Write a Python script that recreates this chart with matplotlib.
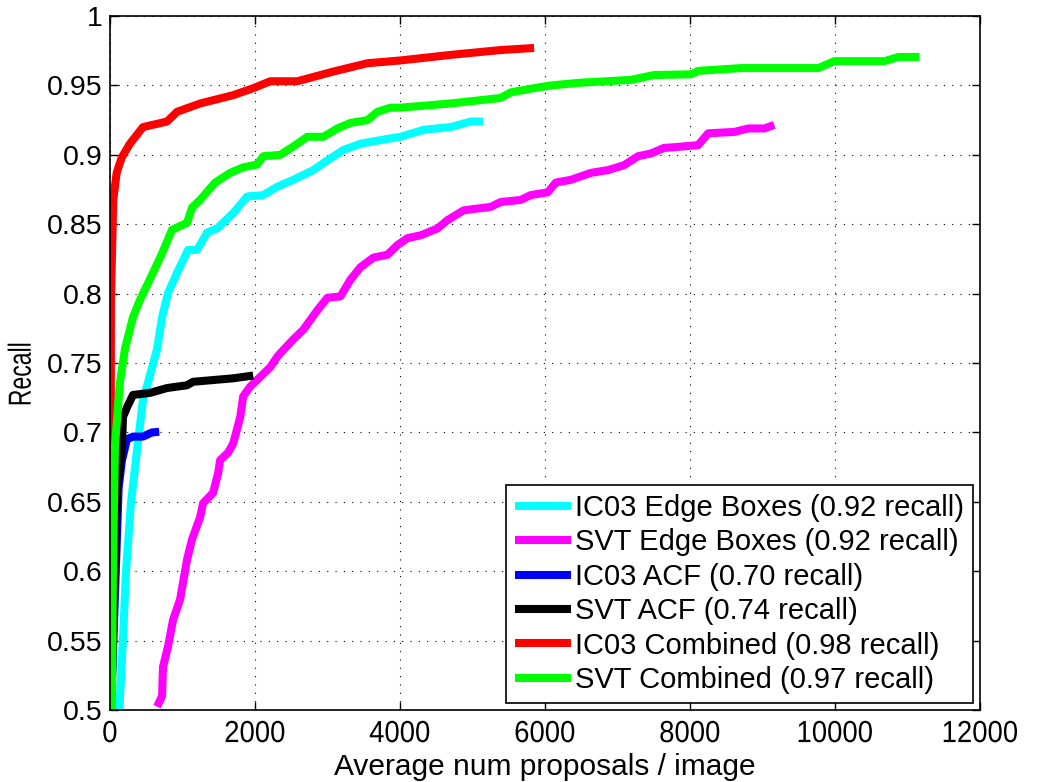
import matplotlib
matplotlib.use("Agg")
import matplotlib.pyplot as plt
from matplotlib import patheffects
from matplotlib.transforms import Affine2D

# IC03 Edge Boxes
ic03_eb_x = [130, 180, 221, 290, 380, 456, 525, 650, 719, 802, 926, 1078, 1202, 1341, 1479, 1700,
             1893, 2115, 2308, 2529, 2805, 2999, 3220, 3455, 3773, 4008, 4326, 4699, 4975, 5150]
ic03_eb_y = [0.5, 0.551, 0.599, 0.649, 0.69, 0.7235, 0.736, 0.760, 0.783, 0.8005, 0.815, 0.8315,
             0.8315, 0.844, 0.847, 0.858, 0.870, 0.871, 0.877, 0.882, 0.889, 0.896, 0.9035, 0.908,
             0.911, 0.913, 0.918, 0.920, 0.924, 0.924]

# SVT Edge Boxes
svt_eb_x = [650, 719, 732, 802, 871, 967, 1064, 1133, 1244, 1285, 1423, 1493, 1520, 1631, 1700,
            1797, 1838, 1935, 2073, 2211, 2308, 2349, 2529, 2667, 2861, 2999, 3179, 3317, 3455,
            3635, 3828, 3966, 4105, 4284, 4519, 4657, 4878, 5252, 5390, 5666, 5804, 6039, 6150,
            6357, 6634, 6869, 7090, 7283, 7463, 7642, 7781, 8113, 8251, 8610, 8803, 9024, 9163]
svt_eb_y = [0.5025, 0.510, 0.531, 0.546, 0.565, 0.5795, 0.6085, 0.623, 0.639, 0.649, 0.6565, 0.671,
            0.680, 0.6855, 0.692, 0.711, 0.726, 0.733, 0.740, 0.747, 0.7545, 0.757, 0.767, 0.774,
            0.788, 0.797, 0.798, 0.810, 0.819, 0.826, 0.828, 0.835, 0.840, 0.842, 0.847, 0.853,
            0.860, 0.8625, 0.866, 0.8675, 0.871, 0.873, 0.880, 0.882, 0.887, 0.889, 0.8925, 0.899,
            0.901, 0.905, 0.9055, 0.907, 0.9155, 0.9165, 0.919, 0.919, 0.9215]

# IC03 ACF
ic03_acf_x = [15, 120, 166, 235, 318, 456, 580, 680]
ic03_acf_y = [0.5, 0.66, 0.68, 0.695, 0.697, 0.697, 0.700, 0.7005]

# SVT ACF
svt_acf_x = [15, 100, 166, 180, 235, 318, 553, 788, 1064, 1147, 1700, 1976]
svt_acf_y = [0.5, 0.66, 0.6875, 0.711, 0.718, 0.727, 0.7285, 0.732, 0.734, 0.7365, 0.739, 0.741]

# IC03 Combined
ic03_comb_x = [5, 10, 14, 46, 93, 162, 276, 456, 788, 926, 1244, 1700, 1976, 2211, 2584, 3082,
               3552, 4008, 4699, 5390, 5850]
ic03_comb_y = [0.5, 0.65, 0.795, 0.8675, 0.887, 0.898, 0.908, 0.920, 0.924, 0.931, 0.937, 0.943,
               0.948, 0.953, 0.953, 0.960, 0.966, 0.968, 0.972, 0.9755, 0.977]

# SVT Combined
svt_comb_x = [28, 41, 69, 138, 207, 318, 415, 594, 719, 857, 1064, 1133, 1244, 1451, 1658, 1838,
              2032, 2115, 2349, 2529, 2723, 2944, 3137, 3317, 3552, 3690, 3870, 4008, 4699, 5390,
              5528, 5846, 6081, 6496, 7187, 7505, 8016, 8113, 8707, 9771, 9992, 10683, 10877, 11167]
svt_comb_y = [0.5, 0.6, 0.69, 0.736, 0.760, 0.783, 0.7955, 0.815, 0.829, 0.846, 0.851, 0.862,
              0.8675, 0.880, 0.887, 0.891, 0.893, 0.899, 0.900, 0.906, 0.913, 0.913, 0.919, 0.923,
              0.925, 0.931, 0.934, 0.934, 0.937, 0.941, 0.945, 0.948, 0.950, 0.952, 0.954, 0.9575,
              0.958, 0.9605, 0.9625, 0.9625, 0.9675, 0.9675, 0.9705, 0.9705]

series = [
    (ic03_eb_x, ic03_eb_y, "#00FFFF", "IC03 Edge Boxes (0.92 recall)"),
    (svt_eb_x, svt_eb_y, "#FF00FF", "SVT Edge Boxes (0.92 recall)"),
    (ic03_acf_x, ic03_acf_y, "#0000FF", "IC03 ACF (0.70 recall)"),
    (svt_acf_x, svt_acf_y, "#000000", "SVT ACF (0.74 recall)"),
    (ic03_comb_x, ic03_comb_y, "#FF0000", "IC03 Combined (0.98 recall)"),
    (svt_comb_x, svt_comb_y, "#00FF00", "SVT Combined (0.97 recall)"),
]


class Squeeze(patheffects.AbstractPathEffect):
    """Narrow the text along its baseline, about its own centre."""

    def __init__(self, sx):
        super().__init__()
        self.sx = sx

    def draw_path(self, renderer, gc, tpath, affine, rgbFace=None):
        ext = tpath.get_extents()
        cx = 0.5 * (ext.x0 + ext.x1)
        t = Affine2D().translate(-cx, 0).scale(self.sx, 1).translate(cx, 0) + affine
        renderer.draw_path(gc, tpath, t, rgbFace)


plt.rcParams["font.family"] = ["Liberation Sans", "DejaVu Sans"]

fig = plt.figure(figsize=(10.37, 7.82), dpi=100)
ax = fig.add_axes([0.106, 0.092, 0.839, 0.8875])

for x, y, c, lab in series:
    ax.plot(x, y, color=c, linewidth=5.8, label=lab, solid_capstyle="butt")

ax.set_xlim(0, 12000)
ax.set_ylim(0.5, 1.0)
ax.set_xticks(range(0, 12001, 2000))
ax.set_yticks([0.5 + 0.05 * i for i in range(11)])
ax.set_yticklabels(["0.5", "0.55", "0.6", "0.65", "0.7", "0.75", "0.8", "0.85", "0.9", "0.95", "1"])
ax.tick_params(direction="in", top=True, right=True, length=6, width=1)
ax.tick_params(axis="y", labelsize=20.5, pad=5)
ax.tick_params(axis="x", labelsize=22, pad=6.5)
ax.grid(True, color="black", linestyle=(0, (1, 6.5)), linewidth=0.8)
for sp in ax.spines.values():
    sp.set_linewidth(1.2)

for t in ax.get_xticklabels():
    t.set_path_effects([Squeeze(0.9)])
ax.set_xlabel("Average num proposals / image", fontsize=21.5, labelpad=3)
ax.set_ylabel("Recall", fontsize=23, path_effects=[Squeeze(0.72)])
ax.yaxis.set_label_coords(-0.083, 0.484)

leg = ax.legend(loc="lower right", fontsize=21, frameon=True, fancybox=False,
                edgecolor="black", framealpha=1, handlelength=1.9, handletextpad=0.15,
                labelspacing=0.22, borderpad=0.3, borderaxespad=0.25)
leg.get_frame().set_linewidth(1.2)

fig.savefig("out.png", dpi=100)
